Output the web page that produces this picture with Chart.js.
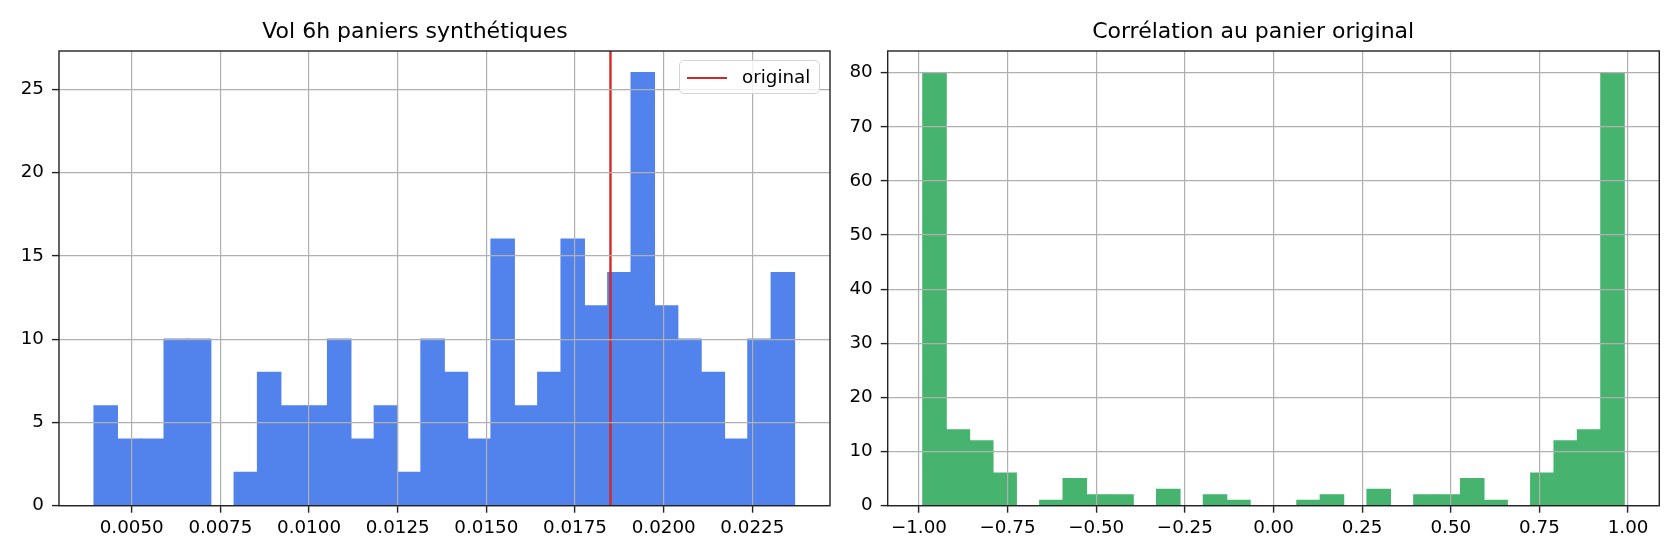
<!DOCTYPE html>
<html>
<head>
<meta charset="utf-8">
<script src="https://cdn.jsdelivr.net/npm/chart.js@4.4.1/dist/chart.umd.min.js"></script>
<style>
  html, body { margin:0; padding:0; width:1680px; height:560px; overflow:hidden; background:#fff; }
  #wrap { position:relative; width:1680px; height:560px; overflow:hidden; }
  canvas { position:absolute; top:0; }
  #c1 { left:0; }
  #c2 { left:847px; }
  #legend { position:absolute; box-sizing:border-box; border:1.2px solid #d4d4d4; border-radius:5px;
            background:rgba(255,255,255,0.8); font-family:'DejaVu Sans'; font-size:18.3px; color:#000; }
  #legend .swatch { position:absolute; left:7px; top:15.5px; width:40px; height:2.4px; background:#d62728; }
  #legend .lbl { position:absolute; left:62px; top:3px; line-height:26px; white-space:nowrap; }
</style>
</head>
<body>
<div id="wrap">
  <canvas id="c1" width="889" height="560"></canvas>
  <canvas id="c2" width="853" height="560"></canvas>
  <div id="legend"><span class="swatch"></span><span class="lbl">original</span></div>
</div>
<script>
// ---- Data ----
const volTitle = 'Vol 6h paniers synthétiques';
const volEdges = [0.003938, 0.004596, 0.005255, 0.005913, 0.006572, 0.007230, 0.007888, 0.008547,
  0.009205, 0.009864, 0.010522, 0.011180, 0.011839, 0.012497, 0.013156, 0.013814, 0.014472,
  0.015131, 0.015789, 0.016448, 0.017106, 0.017764, 0.018423, 0.019081, 0.019740, 0.020398,
  0.021056, 0.021715, 0.022373, 0.023032, 0.023690];
const volCounts = [6, 4, 4, 10, 10, 0, 2, 8, 6, 6, 10, 4, 6, 2, 10, 8, 4, 16, 6, 8, 16, 12, 14, 26, 12, 10, 8, 4, 10, 14];
const originalVol = 0.0185;
const originalLabel = 'original';
const volXRange = [0.00295, 0.02469];
const volXStep = 0.0025;
const volYMax = 27.3;
const volYStep = 5;

const corrTitle = 'Corrélation au panier original';
const corrEdges = [-0.9890, -0.9231, -0.8571, -0.7912, -0.7253, -0.6593, -0.5934, -0.5275,
  -0.4615, -0.3956, -0.3297, -0.2637, -0.1978, -0.1319, -0.0659, 0.0000, 0.0659, 0.1319,
  0.1978, 0.2637, 0.3297, 0.3956, 0.4615, 0.5275, 0.5934, 0.6593, 0.7253, 0.7912, 0.8571,
  0.9231, 0.9890];
const corrCounts = [80, 14, 12, 6, 0, 1, 5, 2, 2, 0, 3, 0, 2, 1, 0, 0, 1, 2, 0, 3, 0, 2, 2, 5, 1, 0, 6, 12, 14, 80];
const corrXRange = [-1.088, 1.088];
const corrXStep = 0.25;
const corrYMax = 84;
const corrYStep = 10;

// ---- helpers ----
const FONT = 'DejaVu Sans';
function histPoints(edges, counts) {
  return counts.map((c, i) => ({ x: (edges[i] + edges[i + 1]) / 2, y: c }));
}
const framePlugin = {
  id: 'frame',
  afterDraw(chart) {
    const { ctx, chartArea: a } = chart;
    ctx.save();
    ctx.strokeStyle = '#222';
    ctx.lineWidth = 1.4;
    ctx.strokeRect(a.left, a.top, a.right - a.left, a.bottom - a.top);
    ctx.restore();
  }
};
function makeConfig(o) {
  const datasets = [{
    type: 'bar',
    data: histPoints(o.edges, o.counts),
    backgroundColor: o.color,
    borderWidth: 0,
    inflateAmount: 0.6,
    barPercentage: 1,
    categoryPercentage: 1,
    order: 2
  }];
  if (o.extra) datasets.push(o.extra);
  return {
    type: 'bar',
    data: { datasets },
    plugins: [framePlugin],
    options: {
      responsive: false,
      animation: false,
      devicePixelRatio: 1,
      layout: { padding: { left: 0, right: o.padRight, top: 0, bottom: 0 } },
      plugins: {
        legend: { display: false },
        tooltip: { enabled: false },
        title: {
          display: true, text: o.title, color: '#000',
          font: { family: FONT, size: 22, weight: 'normal', lineHeight: 1.2 },
          padding: { top: 19, bottom: 5.6 }
        }
      },
      scales: {
        x: {
          type: 'linear', offset: false,
          min: o.xRange[0], max: o.xRange[1],
          border: { display: false },
          grid: { offset: false, color: '#b0b0b0', lineWidth: 1.2, z: 1, drawTicks: true,
                  tickLength: 7, tickColor: '#222', tickWidth: 1.4 },
          ticks: { stepSize: o.xStep, includeBounds: false, autoSkip: false, maxRotation: 0,
                   color: '#000', padding: 5, font: { family: FONT, size: 18.3 },
                   callback: o.xFmt },
          afterFit(s) { s.height = 54.3; }
        },
        y: {
          min: 0, max: o.yMax,
          border: { display: false },
          grid: { color: '#b0b0b0', lineWidth: 1.2, z: 1, tickLength: 7, tickColor: '#222', tickWidth: 1.4 },
          ticks: { stepSize: o.yStep, includeBounds: false, color: '#000', padding: 8,
                   font: { family: FONT, size: 18.3 } },
          afterFit(s) { s.width = o.yWidth; }
        }
      }
    }
  };
}

const fmtMinus = (v, d) => (v < 0 ? '\u2212' : '') + Math.abs(v).toFixed(d);

const chart1 = new Chart(document.getElementById('c1'), makeConfig({
  title: volTitle, edges: volEdges, counts: volCounts, color: '#5283ed',
  xRange: volXRange, xStep: volXStep, yMax: volYMax, yStep: volYStep,
  xFmt: v => fmtMinus(v, 4), padRight: 59, yWidth: 59,
  extra: {
    type: 'line', label: originalLabel,
    data: [{ x: originalVol, y: 0 }, { x: originalVol, y: volYMax }],
    borderColor: '#d62728', borderWidth: 2.4, pointRadius: 0, fill: false, order: 1
  }
}));

const chart2 = new Chart(document.getElementById('c2'), makeConfig({
  title: corrTitle, edges: corrEdges, counts: corrCounts, color: '#46b46e',
  xRange: corrXRange, xStep: corrXStep, yMax: corrYMax, yStep: corrYStep,
  xFmt: v => fmtMinus(v, 2), padRight: 40.7, yWidth: 40.7
}));

// legend box placed in the upper-right corner of the first plot area
const a = chart1.chartArea;
const lg = document.getElementById('legend');
lg.style.left = (a.right - 10 - 141) + 'px';
lg.style.top = (a.top + 9) + 'px';
lg.style.width = '141px';
lg.style.height = '34px';
</script>
</body>
</html>
